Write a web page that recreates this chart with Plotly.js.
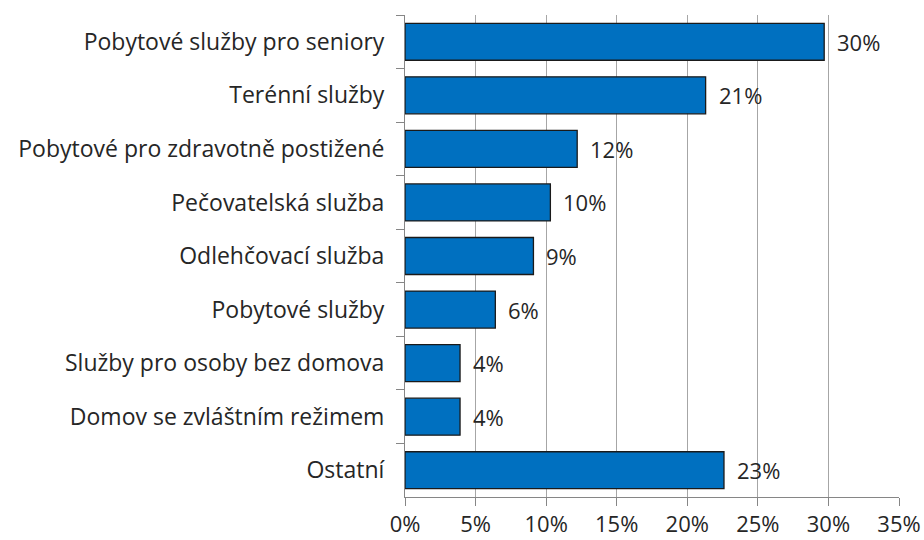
<!DOCTYPE html>
<html>
<head>
<meta charset="utf-8">
<script src="https://cdn.plot.ly/plotly-3.0.1.min.js"></script>
<style>html,body{margin:0;padding:0;background:#fff;}#chart{width:924px;height:540px;}</style>
</head>
<body>
<div id="chart"></div>
<script>
// Data (top to bottom as displayed)
const categories = [
  "Pobytové služby pro seniory",
  "Terénní služby",
  "Pobytové pro zdravotně postižené",
  "Pečovatelská služba",
  "Odlehčovací služba",
  "Pobytové služby",
  "Služby pro osoby bez domova",
  "Domov se zvláštním režimem",
  "Ostatní"
];
const values = [0.297, 0.213, 0.122, 0.103, 0.091, 0.064, 0.039, 0.039, 0.226];
const valueLabels = ["30%", "21%", "12%", "10%", "9%", "6%", "4%", "4%", "23%"];
const xTicks = [0, 0.05, 0.10, 0.15, 0.20, 0.25, 0.30, 0.35];
const xTickLabels = ["0%", "5%", "10%", "15%", "20%", "25%", "30%", "35%"];

const font = "'Open Sans', Lato, 'Liberation Sans', sans-serif";

const trace = {
  type: "bar",
  orientation: "h",
  y: categories,
  x: values,
  marker: { color: "#0070C0", line: { color: "#1a1a1a", width: 1.3 } },
  hoverinfo: "skip"
};

const annotations = categories.map((c, i) => ({
  x: values[i], y: c, xref: "x", yref: "y",
  text: valueLabels[i], showarrow: false,
  xanchor: "left", yanchor: "middle", xshift: 11,
  font: { family: font, size: 22, color: "#262626" }
}));

const layout = {
  width: 924, height: 540,
  margin: { l: 405, r: 25, t: 15, b: 43 },
  paper_bgcolor: "#ffffff", plot_bgcolor: "#ffffff",
  showlegend: false,
  bargap: 0.31,
  xaxis: {
    range: [0, 0.35],
    tickvals: xTicks, ticktext: xTickLabels,
    showgrid: true, gridcolor: "#A6A6A6", gridwidth: 1,
    zeroline: false,
    showline: true, linecolor: "#868686", linewidth: 1,
    ticks: "outside", ticklen: 8, tickcolor: "#868686",
    ticklabelstandoff: 0,
    tickfont: { family: font, size: 22, color: "#262626" },
    fixedrange: true
  },
  yaxis: {
    type: "category",
    autorange: "reversed",
    showgrid: false, zeroline: false,
    showline: true, linecolor: "#868686", linewidth: 1,
    ticks: "outside", ticklen: 8, tickcolor: "#868686",
    tickson: "boundaries",
    ticklabelstandoff: 15,
    tickfont: { family: font, size: 23, color: "#262626" },
    fixedrange: true
  },
  annotations: annotations
};

Plotly.newPlot("chart", [trace], layout, { displayModeBar: false, staticPlot: true });
</script>
</body>
</html>
